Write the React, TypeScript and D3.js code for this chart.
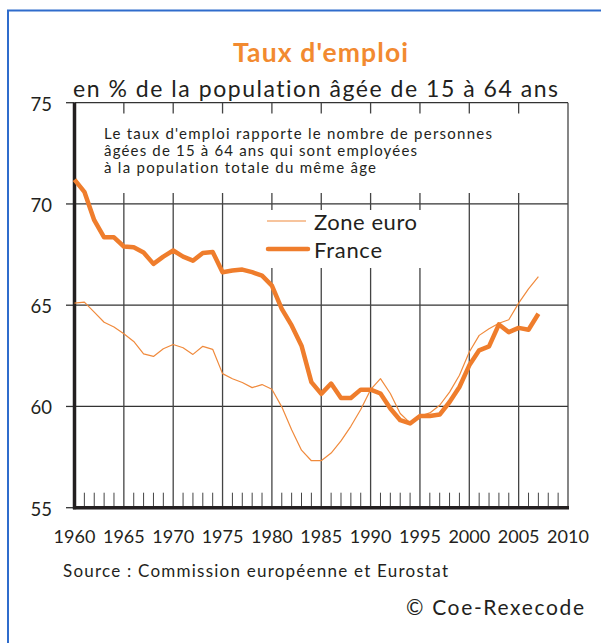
import React from 'react';
import * as d3 from 'd3';

const years = [
  1960, 1961, 1962, 1963, 1964, 1965, 1966, 1967, 1968, 1969,
  1970, 1971, 1972, 1973, 1974, 1975, 1976, 1977, 1978, 1979,
  1980, 1981, 1982, 1983, 1984, 1985, 1986, 1987, 1988, 1989,
  1990, 1991, 1992, 1993, 1994, 1995, 1996, 1997, 1998, 1999,
  2000, 2001, 2002, 2003, 2004, 2005, 2006, 2007,
];

const france = [
  71.2, 70.6, 69.2, 68.35, 68.35, 67.9, 67.86, 67.6, 67.04, 67.4,
  67.7, 67.4, 67.2, 67.58, 67.63, 66.63, 66.71, 66.76, 66.63, 66.46,
  65.97, 64.82, 64.0, 63.0, 61.2, 60.62, 61.13, 60.42, 60.42, 60.83,
  60.83, 60.64, 59.9, 59.32, 59.16, 59.53, 59.53, 59.6, 60.22, 60.96,
  62.03, 62.77, 62.97, 64.05, 63.67, 63.88, 63.79, 64.58,
];

const zoneEuro = [
  65.1, 65.15, 64.66, 64.16, 63.92, 63.59, 63.21, 62.6, 62.47, 62.85,
  63.06, 62.9, 62.57, 62.97, 62.82, 61.62, 61.37, 61.18, 60.93, 61.08,
  60.85, 59.98, 58.85, 57.84, 57.32, 57.32, 57.7, 58.3, 59.02, 59.85,
  60.83, 61.37, 60.64, 59.65, 59.19, 59.53, 59.68, 60.06, 60.71, 61.54,
  62.69, 63.51, 63.84, 64.11, 64.28, 65.1, 65.81, 66.41,
];

const xTicks = [1960, 1965, 1970, 1975, 1980, 1985, 1990, 1995, 2000, 2005, 2010];
const yTicks = [55, 60, 65, 70, 75];
const minorYears = [
  1961, 1962, 1963, 1964, 1966, 1967, 1968, 1969, 1971, 1972, 1973, 1974,
  1976, 1977, 1978, 1979, 1981, 1982, 1983, 1984, 1986, 1987, 1988, 1989,
  1991, 1992, 1993, 1994, 1996, 1997, 1998, 1999, 2001, 2002, 2003, 2004,
  2006, 2007, 2008, 2009,
];

const title = "Taux d'emploi";
const subtitle = 'en % de la population âgée de 15 à 64 ans';
const noteLines = [
  "Le taux d'emploi rapporte le nombre de personnes",
  'âgées de 15 à 64 ans qui sont employées',
  'à la population totale du même âge',
];
const noteWidths = [388, 313, 272];
const legendLabels = ['Zone euro', 'France'];
const legendWidths = [103, 68];
const sourceText = 'Source : Commission européenne et Eurostat';
const copyright = '© Coe-Rexecode';

const ORANGE = '#EF7D2C';
const ORANGE_THIN = '#F08A3C';
const TEXT = '#231F20';
const FONT = "Lato, 'Open Sans', sans-serif";

export default function App() {
  const x = d3.scaleLinear().domain([1960, 2010]).range([74.5, 568]);
  const y = d3.scaleLinear().domain([55, 75]).range([507.7, 102.7]);

  const line = d3
    .line<number>()
    .x((_, i) => x(years[i]))
    .y((d) => y(d));

  const top = y(75);
  const bottom = y(55);
  const left = x(1960);
  const right = x(2010);

  return (
    <svg
      width={601}
      height={643}
      style={{ position: 'absolute', left: 0, top: 0, background: '#fff', fontVariantLigatures: 'none' }}
      fontFamily={FONT}
    >
      <rect x={0} y={0} width={601} height={643} fill="#fff" />
      {/* blue frame */}
      <path d="M8,643 V10.5 H601" fill="none" stroke="#2F6CCC" strokeWidth={2} />

      {/* title */}
      <text x={233} y={62} fontSize={26.5} fontWeight={700} fill="#F28A30" textLength={175} lengthAdjust="spacing">
        {title}
      </text>
      <text x={73} y={97} fontSize={23} fill={TEXT} textLength={485} lengthAdjust="spacing">
        {subtitle}
      </text>

      {/* horizontal grid */}
      {yTicks.map((t) => (
        <g key={'y' + t}>
          <line x1={left} x2={right} y1={y(t)} y2={y(t)} stroke="#333" strokeWidth={1.3} />
          <line x1={66} x2={left} y1={y(t)} y2={y(t)} stroke="#333" strokeWidth={1.3} />
          <text x={52} y={y(t) + 8} textAnchor="end" fontSize={18.5} fill={TEXT}>
            {t}
          </text>
        </g>
      ))}

      {/* vertical grid */}
      {xTicks.slice(1).map((t) => (
        <line key={'x' + t} x1={x(t)} x2={x(t)} y1={top} y2={bottom} stroke="#444" strokeWidth={1.3} />
      ))}

      {/* minor ticks */}
      {minorYears.map((t) => (
        <line key={'m' + t} x1={x(t)} x2={x(t)} y1={bottom - 15} y2={bottom} stroke="#444" strokeWidth={1} />
      ))}

      {/* annotation box */}
      <rect x={left + 2} y={113.5} width={right - left - 3} height={79.5} fill="#fff" />
      {/* legend box */}
      <rect x={262} y={210} width={188} height={58} fill="#fff" />

      {/* axes */}
      <line x1={left} x2={left} y1={top} y2={bottom + 1.5} stroke="#231F20" strokeWidth={3.5} />
      <line x1={left - 1.5} x2={right + 1} y1={bottom} y2={bottom} stroke="#231F20" strokeWidth={3.5} />

      {/* note */}
      {noteLines.map((l, i) => (
        <text
          key={'n' + i}
          x={104}
          y={138.5 + i * 17.2}
          fontSize={15}
          fill={TEXT}
          textLength={noteWidths[i]}
          lengthAdjust="spacing"
        >
          {l}
        </text>
      ))}

      {/* series */}
      <path d={line(zoneEuro) || ''} fill="none" stroke={ORANGE_THIN} strokeWidth={1.2} strokeLinejoin="round" />
      <path d={line(france) || ''} fill="none" stroke={ORANGE} strokeWidth={4.5} strokeLinejoin="round" />

      {/* legend */}
      <line x1={267} x2={306} y1={221} y2={221} stroke={ORANGE_THIN} strokeWidth={1.2} />
      <text x={314} y={230} fontSize={22} fill={TEXT} textLength={legendWidths[0]} lengthAdjust="spacing">
        {legendLabels[0]}
      </text>
      <line x1={268} x2={308} y1={249} y2={249} stroke={ORANGE} strokeWidth={4.5} strokeLinecap="round" />
      <text x={314} y={257.5} fontSize={22} fill={TEXT} textLength={legendWidths[1]} lengthAdjust="spacing">
        {legendLabels[1]}
      </text>

      {/* x labels */}
      {xTicks.map((t) => (
        <text key={'xl' + t} x={x(t)} y={543} textAnchor="middle" fontSize={18} fill={TEXT}>
          {t}
        </text>
      ))}

      <text x={63} y={577} fontSize={17} fill={TEXT} textLength={385} lengthAdjust="spacing">
        {sourceText}
      </text>
      <text x={406} y={615} fontSize={21} fill={TEXT} textLength={178} lengthAdjust="spacing">
        {copyright}
      </text>
    </svg>
  );
}
